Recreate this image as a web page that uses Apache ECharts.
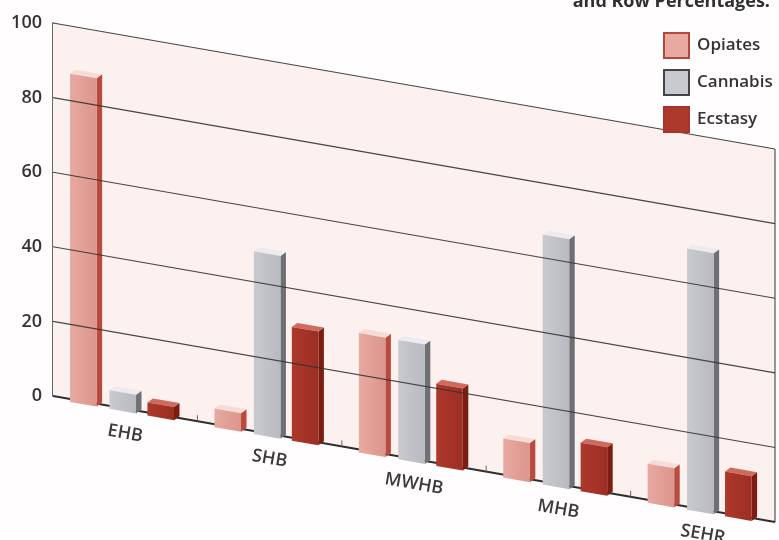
<!DOCTYPE html>
<html>
<head>
<meta charset="utf-8">
<script src="https://cdn.jsdelivr.net/npm/echarts@6/dist/echarts.min.js"></script>
<style>
  html, body { margin: 0; padding: 0; background: #ffffff; }
  #chart { width: 779px; height: 540px; }
</style>
</head>
<body>
<div id="chart"></div>
<script>
// Regions and the share of each drug type (percent)
const categories = ['EHB', 'SHB', 'MWHB', 'MHB', 'SEHR'];
const opiates  = [88, 5, 32, 10.5, 10.5];
const cannabis = [5, 49, 32, 67, 70];
const ecstasy  = [3.5, 30.5, 22, 13, 12];
const yTicks = [0, 20, 40, 60, 80, 100];
const seriesNames = ['Opiates', 'Cannabis', 'Ecstasy'];

// Oblique projection: the whole plot plane is sheared downward to the right
const SLOPE = 0.1746;
const FONT = "'Open Sans', 'DejaVu Sans', sans-serif";

// bar layout inside one category band (fractions of band width)
const SLOT_OFFSET = [0.118, 0.391, 0.654];
const BAR_W = 0.184;
const DEPTH = [5.5, -4];     // extrusion of the box (right / up)
const FRONT_DROP = 3;        // front face sits slightly in front of the floor

const palette = {
  Opiates:  { front: '#e8a9a1', frontDark: '#dc958c', side: '#b84a40', top: '#f6dcd7', border: '#b5473b' },
  Cannabis: { front: '#c9cacf', frontDark: '#b9bac0', side: '#6f7075', top: '#ececf0', border: '#454548' },
  Ecstasy:  { front: '#ad382c', frontDark: '#9c2e23', side: '#7c1d14', top: '#cf6a5e', border: '#a9332a' }
};

function shearY(x, y, x0) { return y + SLOPE * (x - x0); }

function barRenderer(name, slot) {
  const col = palette[name];
  return function (params, api) {
    const cs = params.coordSys;
    const x0 = cs.x;
    const band = api.size([1, 0])[0];
    const idx = api.value(0);
    const val = api.value(1);
    const base = api.coord([idx, 0]);
    const topPt = api.coord([idx, val]);
    const xL = base[0] - band / 2 + band * SLOT_OFFSET[slot];
    const xR = xL + band * BAR_W;
    const P = (x, y) => [x, shearY(x, y, x0) + FRONT_DROP];
    const bl = P(xL, base[1]), br = P(xR, base[1]);
    const tr = P(xR, topPt[1]), tl = P(xL, topPt[1]);
    const mv = p => [p[0] + DEPTH[0], p[1] + DEPTH[1]];
    return {
      type: 'group',
      children: [
        {
          type: 'polygon',
          shape: { points: [tr, br, mv(br), mv(tr)] },
          style: { fill: col.side }
        },
        {
          type: 'polygon',
          shape: { points: [tl, tr, mv(tr), mv(tl)] },
          style: { fill: col.top }
        },
        {
          type: 'polygon',
          shape: { points: [tl, tr, br, bl] },
          style: {
            fill: new echarts.graphic.LinearGradient(0, 0, 1, 0, [
              { offset: 0, color: col.front },
              { offset: 1, color: col.frontDark }
            ])
          }
        }
      ]
    };
  };
}

// Plot wall, floor line, right edge, category ticks and labels
function renderFrame(params, api) {
  const cs = params.coordSys;
  const x0 = cs.x, x1 = cs.x + cs.width;
  const yTop = api.coord([0, yTicks[yTicks.length - 1]])[1];
  const yBot = api.coord([0, yTicks[0]])[1];
  const band = api.size([1, 0])[0];
  const children = [];
  children.push({
    type: 'polygon',
    shape: { points: [[x0, yTop], [x1, shearY(x1, yTop, x0)], [x1, shearY(x1, yBot, x0)], [x0, yBot]] },
    style: { fill: '#fcf1ef' }
  });
  children.push({
    type: 'line',
    shape: { x1: x1, y1: shearY(x1, yTop, x0), x2: x1, y2: shearY(x1, yBot, x0) },
    style: { stroke: '#555', lineWidth: 1.2 }
  });
  children.push({
    type: 'line',
    shape: { x1: x0, y1: yBot, x2: x1, y2: shearY(x1, yBot, x0) },
    style: { stroke: '#2e2e2e', lineWidth: 2 }
  });
  categories.forEach(function (name, i) {
    const c = api.coord([i, 0])[0];
    if (i > 0) {
      const bx = c - band / 2;
      const fy = shearY(bx, yBot, x0);
      children.push({
        type: 'line',
        shape: { x1: bx, y1: fy, x2: bx, y2: fy - 6 },
        style: { stroke: '#666', lineWidth: 1 }
      });
    }
    children.push({
      type: 'text',
      x: c,
      y: shearY(c, yBot, x0) + 25,
      rotation: -Math.atan(SLOPE),
      style: {
        text: name,
        fill: '#3a3a3a',
        font: '600 18px ' + FONT,
        align: 'center',
        verticalAlign: 'middle'
      }
    });
  });
  return { type: 'group', children: children };
}

// Sloping value gridlines drawn across the wall
function renderGrid(params, api) {
  const cs = params.coordSys;
  const x0 = cs.x, x1 = cs.x + cs.width;
  const y = api.coord([0, api.value(0)])[1];
  return {
    type: 'line',
    shape: { x1: x0, y1: y, x2: x1, y2: shearY(x1, y, x0) },
    style: { stroke: '#333', lineWidth: 1.1, opacity: 0.9 }
  };
}

const dataSets = [opiates, cannabis, ecstasy];

const chart = echarts.init(document.getElementById('chart'), null, { renderer: 'canvas' });

const series = [
  {
    type: 'custom',
    renderItem: renderFrame,
    data: [[0, 0]],
    encode: { x: 0, y: 1 },
    z: 1,
    silent: true
  }
];
seriesNames.forEach(function (name, s) {
  series.push({
    name: name,
    type: 'custom',
    renderItem: barRenderer(name, s),
    data: categories.map(function (c, i) { return [i, dataSets[s][i]]; }),
    encode: { x: 0, y: 1 },
    itemStyle: { color: palette[name].front },
    z: 2
  });
});
series.push({
  type: 'custom',
  renderItem: renderGrid,
  data: yTicks.slice(1).map(function (v) { return [v]; }),
  encode: { y: 0 },
  z: 3,
  silent: true
});

chart.setOption({
  animation: false,
  backgroundColor: '#fffdfd',
  title: {
    text: 'and Row Percentages:',
    right: 4,
    top: -12,
    textStyle: { fontFamily: FONT, fontSize: 18, fontWeight: 'bold', color: '#2f2f2f' }
  },
  legend: {
    orient: 'vertical',
    left: 658,
    top: 27,
    itemWidth: 25,
    itemHeight: 25,
    itemGap: 10,
    icon: 'rect',
    selectedMode: false,
    textStyle: { fontFamily: FONT, fontSize: 17, fontWeight: 600, color: '#333', padding: [0, 0, 0, 3] },
    data: seriesNames.map(function (n) {
      return {
        name: n,
        itemStyle: { color: palette[n].front, borderColor: palette[n].border, borderWidth: 2 }
      };
    })
  },
  grid: { left: 53, right: 4, top: 23, bottom: 144, containLabel: false },
  xAxis: {
    type: 'category',
    data: categories,
    show: false
  },
  yAxis: {
    type: 'value',
    min: 0,
    max: 100,
    interval: 20,
    axisLine: { show: true, lineStyle: { color: '#333', width: 1.5 } },
    axisTick: { show: false },
    splitLine: { show: false },
    axisLabel: {
      margin: 11,
      fontFamily: FONT,
      fontSize: 18,
      fontWeight: 600,
      color: '#333'
    }
  },
  series: series
});
</script>
</body>
</html>
